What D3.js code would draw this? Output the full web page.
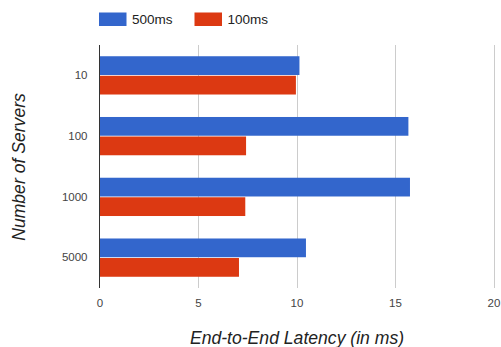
<!DOCTYPE html>
<html>
<head>
<meta charset="utf-8">
<script src="https://cdn.jsdelivr.net/npm/d3@7"></script>
<style>
  html, body { margin: 0; padding: 0; background: #fff; }
  svg { display: block; font-family: "Liberation Sans", Arial, sans-serif; }
</style>
</head>
<body>
<svg id="chart" width="501" height="347"></svg>
<script>
// Server counts on the vertical axis
const categories = ["10", "100", "1000", "5000"];
// Latency series (ms)
const seriesNames = ["500ms", "100ms"];
const values500 = [10.15, 15.68, 15.76, 10.48];
const values100 = [9.97, 7.44, 7.40, 7.08];
const xTicks = [0, 5, 10, 15, 20];
const colors = ["#3366cc", "#dc3912"];

const FONT = "'Liberation Sans', Arial, sans-serif";
const svg = d3.select("#chart");
const plot = { left: 99.5, right: 493.5, top: 45, bottom: 288 };

const x = d3.scaleLinear().domain([0, 20]).range([plot.left, plot.right]);
const y = d3.scaleBand().domain(categories).range([plot.top, plot.bottom])
  .paddingInner(0.37).paddingOuter(0.185);
const ySub = d3.scaleBand().domain(seriesNames).range([0, y.bandwidth()]).paddingInner(0.04);

// vertical gridlines
svg.append("g").selectAll("line").data(xTicks.filter(d => d !== 0)).join("line")
  .attr("x1", d => Math.round(x(d)) + 0.5).attr("x2", d => Math.round(x(d)) + 0.5)
  .attr("y1", plot.top).attr("y2", plot.bottom)
  .attr("stroke", "#cccccc").attr("stroke-width", 1);

// bars
const rows = categories.map((c, i) => ({ cat: c, vals: [values500[i], values100[i]] }));
const groups = svg.append("g").selectAll("g").data(rows).join("g")
  .attr("transform", d => `translate(0,${y(d.cat)})`);
groups.selectAll("rect").data(d => d.vals.map((v, j) => ({ v, s: seriesNames[j], j })))
  .join("rect")
  .attr("x", x(0))
  .attr("y", d => ySub(d.s))
  .attr("width", d => x(d.v) - x(0))
  .attr("height", ySub.bandwidth())
  .attr("fill", d => colors[d.j]);

// baseline axis line
svg.append("line")
  .attr("x1", x(0)).attr("x2", x(0))
  .attr("y1", plot.top).attr("y2", plot.bottom)
  .attr("stroke", "#333333").attr("stroke-width", 1);

// x tick labels
const xAxis = d3.axisBottom(x).tickValues(xTicks).tickSize(0).tickPadding(0);
const gx = svg.append("g").attr("transform", `translate(0,${plot.bottom})`).call(xAxis)
  .attr("font-family", FONT).attr("font-size", "11.5px");
gx.select(".domain").remove();
gx.selectAll("text").attr("fill", "#444444")
  .attr("dy", null).attr("y", 19);

// y tick labels
const yAxis = d3.axisLeft(y).tickSize(0).tickPadding(12);
const gy = svg.append("g").attr("transform", `translate(${plot.left},0)`).call(yAxis)
  .attr("font-family", FONT).attr("font-size", "11.5px");
gy.select(".domain").remove();
gy.selectAll("text").attr("fill", "#444444");

// axis titles
svg.append("text")
  .attr("x", 297).attr("y", 344)
  .attr("text-anchor", "middle").attr("font-family", FONT)
  .attr("font-size", "17.6px").attr("font-style", "italic").attr("fill", "#222222")
  .text("End-to-End Latency (in ms)");
svg.append("text")
  .attr("transform", "translate(25,167) rotate(-90)")
  .attr("text-anchor", "middle").attr("font-family", FONT)
  .attr("font-size", "17.6px").attr("font-style", "italic").attr("fill", "#222222")
  .text("Number of Servers");

// legend
const legendX = [99, 194.5];
const legend = svg.append("g").selectAll("g").data(seriesNames).join("g")
  .attr("transform", (d, i) => `translate(${legendX[i]},12.5)`);
legend.append("rect").attr("width", 27.5).attr("height", 13.5)
  .attr("fill", (d, i) => colors[i]);
legend.append("text").attr("x", 33).attr("y", 11.8).attr("font-family", FONT)
  .attr("font-size", "13.5px").attr("fill", "#222222").text(d => d);
</script>
</body>
</html>
